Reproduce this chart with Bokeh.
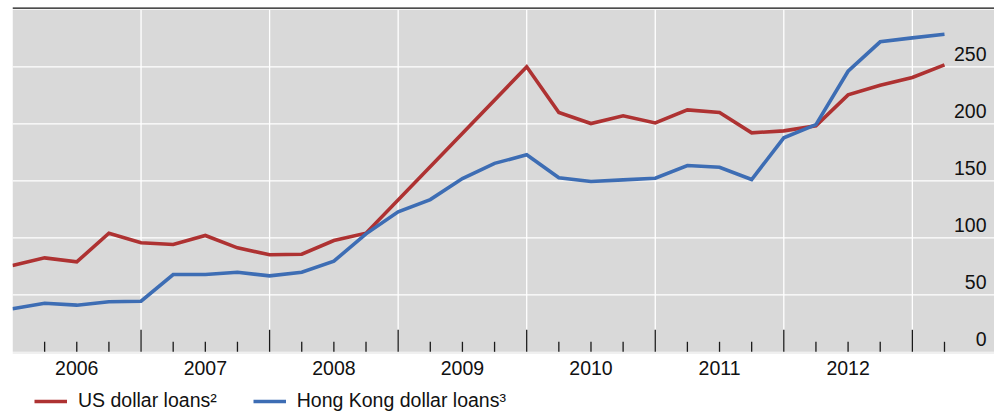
from bokeh.plotting import figure
from bokeh.models import Range1d, Span, Legend, LegendItem, ColumnDataSource
from bokeh.core.properties import value
from bokeh.embed import file_html
from bokeh.resources import INLINE

# ---------------- data ----------------
# quarterly observations, positioned at quarter boundaries (2006.0 = end-2005)
quarters = [2006 + i / 4 for i in range(30)]

us_dollar_loans = [75.7, 82.4, 78.9, 104.0, 95.6, 94.1, 102.0, 91.2, 85.1, 85.6,
                   97.6, 104.0, None, None, None, None, 250.0, 209.9, 200.2, 207.0,
                   200.8, 212.2, 209.9, 192.1, 193.8, 198.2, 225.4, 233.8, 240.6, 251.7]

hk_dollar_loans = [37.7, 42.6, 40.9, 43.9, 44.4, 67.8, 67.8, 69.8, 66.6, 69.8,
                   79.5, 103.5, 122.8, 133.5, 152.0, 165.3, 172.8, 152.6, 149.4, 150.8,
                   152.3, 163.4, 161.9, 151.1, 187.7, 199.3, 246.1, 271.9, 275.4, 278.5]

year_boundaries = [2007, 2008, 2009, 2010, 2011, 2012, 2013]
year_centers = [2006.5, 2007.5, 2008.5, 2009.5, 2010.5, 2011.5, 2012.5]
year_labels = ["2006", "2007", "2008", "2009", "2010", "2011", "2012"]
quarter_ticks = [q for q in quarters[1:] if q not in year_boundaries]
y_ticks = [0, 50, 100, 150, 200, 250]
y_tick_labels = ["0", "50", "100", "150", "200", "250"]
y_bottom, y_top = 0, 300

series_labels = ["US dollar loans\u00b2", "Hong Kong dollar loans\u00b3"]
colors = ["#AE3232", "#3D6DB4"]

# ---------------- layout / style ----------------
FONT = "Liberation Sans"
FS = "19.5px"
TXT = "#111111"
W, H = 994, 412
BORDER_LEFT, BORDER_TOP = 12, 7
X_START, X_END = 2006.0, 2013.639
Y_START, Y_END = -53.25, 302.02
PX_PER_UNIT = (H - BORDER_TOP) / (Y_END - Y_START)
MAJOR_TICK = 22 / PX_PER_UNIT
MINOR_TICK = 10 / PX_PER_UNIT

p = figure(width=W, height=H, output_backend="svg", toolbar_location=None,
           x_range=Range1d(X_START, X_END), y_range=Range1d(Y_START, Y_END),
           x_axis_location=None, y_axis_location=None,
           min_border_left=BORDER_LEFT, min_border_right=0,
           min_border_top=BORDER_TOP, min_border_bottom=0)
p.background_fill_color = "white"
p.border_fill_color = "white"
p.outline_line_color = None
p.xgrid.visible = False
p.ygrid.visible = False

# grey plotting area
p.quad(left=[X_START], right=[X_END], bottom=[y_bottom], top=[y_top],
       fill_color="#D9D9D9", line_color=None)

# grid lines (white)
p.segment(x0=year_boundaries, x1=year_boundaries,
          y0=[y_bottom] * len(year_boundaries), y1=[y_top] * len(year_boundaries),
          line_color="white", line_width=1.3)
p.segment(x0=[X_START] * 5, x1=[X_END] * 5, y0=y_ticks[1:], y1=y_ticks[1:],
          line_color="white", line_width=1.3)

# tick marks rising from the bottom of the grey area
p.segment(x0=year_boundaries, x1=year_boundaries,
          y0=[y_bottom] * len(year_boundaries), y1=[y_bottom + MAJOR_TICK] * len(year_boundaries),
          line_color="#1a1a1a", line_width=1.3)
p.segment(x0=quarter_ticks, x1=quarter_ticks,
          y0=[y_bottom] * len(quarter_ticks), y1=[y_bottom + MINOR_TICK] * len(quarter_ticks),
          line_color="#1a1a1a", line_width=1.3)

# thin light base line under the grey area
p.segment(x0=[X_START], x1=[X_END], y0=[y_bottom - 1.2 / PX_PER_UNIT],
          y1=[y_bottom - 1.2 / PX_PER_UNIT], line_color="#ebebeb", line_width=1.3)

# top rule
p.add_layout(Span(location=Y_END, dimension="width", line_color="#111111", line_width=2.5))

# series
renderers = []
for vals, col in zip([us_dollar_loans, hk_dollar_loans], colors):
    xs = [q for q, v in zip(quarters, vals) if v is not None]
    ys = [v for v in vals if v is not None]
    r = p.line(xs, ys, line_color=col, line_width=3.6, line_join="miter")
    renderers.append(r)

# y tick labels, right-aligned above their grid lines
ysrc = ColumnDataSource(dict(x=[X_END] * len(y_ticks), y=y_ticks, t=y_tick_labels))
p.text(x="x", y="y", text="t", source=ysrc, text_align="right", text_baseline="alphabetic",
       x_offset=-8, y_offset=-13, text_font=value(FONT), text_font_size=FS, text_color=TXT)

# year labels centred under each year
xsrc = ColumnDataSource(dict(x=year_centers, y=[y_bottom] * len(year_centers), t=year_labels))
p.text(x="x", y="y", text="t", source=xsrc, text_align="center", text_baseline="alphabetic",
       y_offset=16, text_font=value(FONT), text_font_size=FS, text_color=TXT)

legend = Legend(items=[LegendItem(label=lab, renderers=[r]) for lab, r in zip(series_labels, renderers)],
                orientation="horizontal", location=(22, 0), glyph_width=33, glyph_height=20,
                label_standoff=11, spacing=36, padding=0, margin=0,
                label_text_font=FONT, label_text_font_size=FS, label_text_color=TXT,
                border_line_color=None, background_fill_alpha=0)
p.add_layout(legend, "center")

open("out.html", "w").write(file_html(p, INLINE))
